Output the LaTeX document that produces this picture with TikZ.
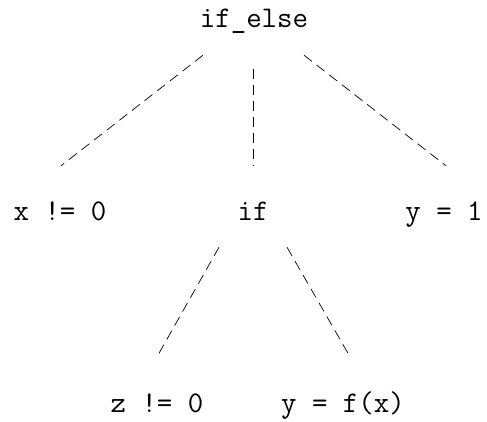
\documentclass[tikz,border=0pt]{standalone}
\usepackage{tikz}

\begin{document}
\begin{tikzpicture}[
  x=1pt,y=-1pt,
  term/.style={inner sep=0pt,anchor=base,text height=17pt,text depth=5pt,
               font=\fontsize{30}{36}\selectfont\ttfamily},
  link/.style={line width=0.7pt,dash pattern=on 10pt off 6pt}]
\useasboundingbox (0,0) rectangle (487,421);

\node[term] (ifelse) at (254,27)  {if\_else};

\node[term] (cond)   at (60,220)  {x != 0};
\node[term] (inner)  at (253,220) {if};
\node[term] (assign) at (444,220) {y = 1};

\node[term] (icond)  at (157,412) {z != 0};
\node[term] (call)   at (343,412) {y = f(x)};

\draw[link] ([xshift=-51pt,yshift=-23pt]ifelse.south) -- ([xshift=1pt,yshift=37pt]cond.north);
\draw[link] ([xshift=-1pt,yshift=-37pt]ifelse.south) -- ([yshift=37pt]inner.north);
\draw[link] ([xshift=50pt,yshift=-23pt]ifelse.south) -- ([xshift=2pt,yshift=37pt]assign.north);

\draw[link] ([xshift=-34pt,yshift=-22pt]inner.south) -- ([yshift=38pt]icond.north);
\draw[link] ([xshift=34pt,yshift=-22pt]inner.south) -- ([xshift=7pt,yshift=38pt]call.north);
\end{tikzpicture}
\end{document}
